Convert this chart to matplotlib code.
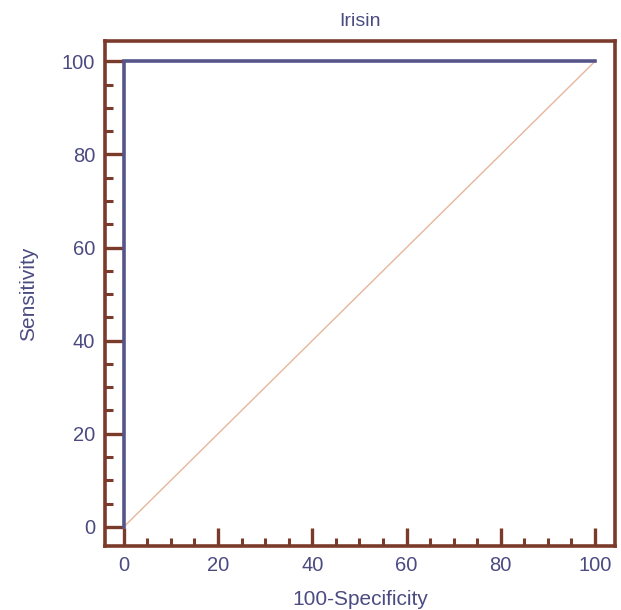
"""ROC curve for Irisin."""

import matplotlib.pyplot as plt
from matplotlib.ticker import MultipleLocator

plt.rcParams['font.family'] = ['Liberation Sans', 'DejaVu Sans']

# ROC curve points (100-Specificity, Sensitivity)
roc_x = [0, 0, 100]
roc_y = [0, 100, 100]
# reference diagonal
diag_x = [0, 100]
diag_y = [0, 100]

spine_col = "#7b3b2b"
text_col = "#4b4b82"
roc_col = "#55558a"
diag_col = "#e6b69a"

fig = plt.figure(figsize=(6.21, 6.10), dpi=100)
ax = fig.add_axes([0.169, 0.105, 0.821, 0.828])

ax.plot(diag_x, diag_y, color=diag_col, lw=1.0)
ax.plot(roc_x, roc_y, color=roc_col, lw=2.6, solid_joinstyle="miter")

ax.set_xlim(-4.0, 104.2)
ax.set_ylim(-4.1, 104.4)

for s in ax.spines.values():
    s.set_color(spine_col)
    s.set_linewidth(2.6)

ax.xaxis.set_major_locator(MultipleLocator(20))
ax.xaxis.set_minor_locator(MultipleLocator(5))
ax.yaxis.set_major_locator(MultipleLocator(20))
ax.yaxis.set_minor_locator(MultipleLocator(5))
ax.tick_params(which="major", direction="in", length=13, width=2.4,
               color=spine_col, labelcolor=text_col, labelsize=14.5, pad=7)
ax.tick_params(which="minor", direction="in", length=6, width=2.2,
               color=spine_col)

ax.set_title("Irisin", color=text_col, fontsize=14, pad=11)
ax.set_xlabel("100-Specificity", color=text_col, fontsize=15, labelpad=11)
ax.set_ylabel("Sensitivity", color=text_col, fontsize=15, labelpad=17)

plt.savefig("out.png", dpi=100)
